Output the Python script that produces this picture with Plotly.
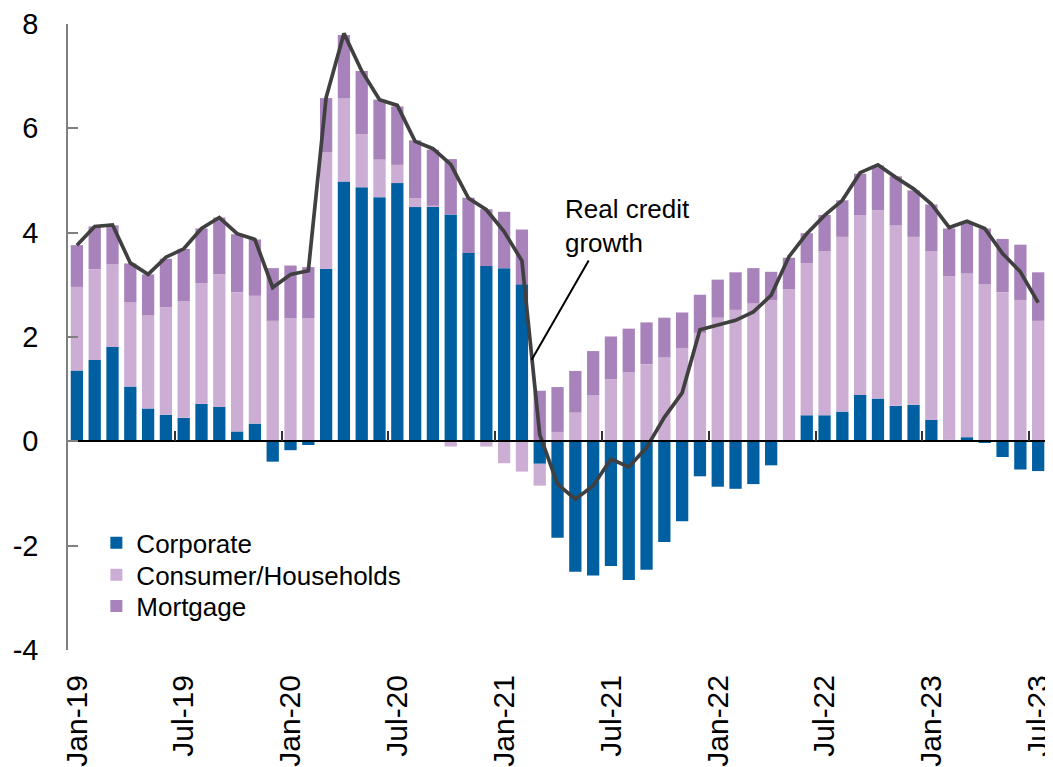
import plotly.graph_objects as go

# monthly data, Jan-19 .. Jul-23 (percent contributions)
months = [f"{m}-{y}" for y in range(19, 24)
          for m in ["Jan", "Feb", "Mar", "Apr", "May", "Jun",
                    "Jul", "Aug", "Sep", "Oct", "Nov", "Dec"]][:55]

corporate = [1.36, 1.56, 1.81, 1.05, 0.63, 0.51, 0.45, 0.72, 0.66, 0.19, 0.34, -0.39,
             -0.17, -0.07, 3.31, 4.98, 4.87, 4.68, 4.95, 4.49, 4.50, 4.35, 3.61, 3.36,
             3.32, 3.01, -0.43, -1.85, -2.50, -2.57, -2.39, -2.66, -2.46, -1.93, -1.53, -0.67,
             -0.87, -0.91, -0.82, -0.46, 0.00, 0.50, 0.50, 0.57, 0.89, 0.82, 0.68, 0.70,
             0.41, 0.03, 0.08, -0.02, -0.30, -0.54, -0.57]
consumer = [1.60, 1.74, 1.58, 1.62, 1.79, 2.06, 2.24, 2.31, 2.54, 2.67, 2.45, 2.31,
            2.36, 2.36, 2.23, 1.59, 1.02, 0.72, 0.35, 0.17, 0.02, -0.10, 0.00, -0.10,
            -0.42, -0.58, -0.42, 0.18, 0.55, 0.88, 1.19, 1.32, 1.48, 1.61, 1.79, 2.08,
            2.37, 2.52, 2.65, 2.71, 2.92, 2.91, 3.14, 3.35, 3.44, 3.61, 3.46, 3.22,
            3.23, 3.14, 3.14, 3.01, 2.86, 2.71, 2.31]
mortgage = [0.80, 0.82, 0.75, 0.74, 0.78, 0.93, 1.00, 1.05, 1.09, 1.11, 1.08, 1.01,
            1.01, 0.98, 1.04, 1.22, 1.21, 1.15, 1.12, 1.11, 1.07, 1.06, 1.06, 1.09,
            1.08, 1.05, 0.97, 0.86, 0.80, 0.85, 0.82, 0.84, 0.80, 0.76, 0.68, 0.73,
            0.73, 0.72, 0.67, 0.54, 0.60, 0.58, 0.70, 0.70, 0.80, 0.86, 0.94, 0.89,
            0.90, 0.91, 0.97, 1.07, 1.02, 1.06, 0.93]
real_credit = [3.76, 4.12, 4.15, 3.42, 3.20, 3.53, 3.69, 4.08, 4.29, 3.98, 3.87, 2.95,
               3.20, 3.27, 6.59, 7.82, 7.10, 6.55, 6.44, 5.75, 5.61, 5.31, 4.66, 4.44,
               4.02, 3.46, 0.13, -0.82, -1.11, -0.85, -0.34, -0.49, -0.12, 0.46, 0.93, 2.14,
               2.23, 2.32, 2.48, 2.80, 3.54, 3.98, 4.33, 4.62, 5.15, 5.30, 5.06, 4.84,
               4.55, 4.10, 4.22, 4.08, 3.60, 3.25, 2.66]

y_min, y_max = -4, 8
y_ticks = list(range(y_min, y_max + 1, 2))
idx = list(range(len(months)))
FONT = "Arial, Liberation Sans, sans-serif"

fig = go.Figure()

# stacked bars (negative parts stack below zero); one legend box per series
series = [("Corporate", corporate, "#005FA0", "legend"),
          ("Consumer/Households", consumer, "#CCADD3", "legend2"),
          ("Mortgage", mortgage, "#A882BA", "legend3")]
for name, vals, color, leg in series:
    fig.add_trace(go.Bar(x=idx, y=vals, name=name, marker_color=color,
                         marker_line_width=0, legend=leg))

# real credit growth line, on the overlay axis that also carries the zero line
fig.add_trace(go.Scatter(x=idx, y=real_credit, mode="lines", xaxis="x2",
                         line=dict(color="#404040", width=3.7), showlegend=False))

fig.add_annotation(x=27.3, y=4.12, xref="x", yref="y", text="Real credit<br>growth",
                   showarrow=False, xanchor="left", yanchor="middle", align="left",
                   font=dict(size=26, color="black", family=FONT))
fig.add_annotation(x=25.54, y=1.56, xref="x", yref="y", text="", showarrow=True,
                   ax=58, ay=-101, arrowhead=0, arrowwidth=2, arrowcolor="black",
                   standoff=0)

leg_style = dict(x=0.029, xanchor="left", yanchor="middle",
                 bgcolor="rgba(0,0,0,0)", font=dict(size=26))

# page body has an 8px margin, so the figure is 8px smaller than the window
fig.update_layout(
    width=1045, height=759,
    margin=dict(l=60, r=7, t=16, b=117),
    plot_bgcolor="white", paper_bgcolor="white",
    barmode="relative", bargap=0.31,
    font=dict(family=FONT, color="black"),
    xaxis=dict(range=[-0.5, 54.44], tickvals=idx[::6], ticktext=months[::6],
               tickangle=-90, ticks="", showline=False, showgrid=False,
               zeroline=False, tickfont=dict(size=30), ticklabelstandoff=18,
               ticklabeloverflow="allow", automargin=False),
    xaxis2=dict(overlaying="x", matches="x", anchor="free", side="bottom",
                position=(0 - y_min) / (y_max - y_min),
                showline=True, linecolor="black", linewidth=1.5,
                ticks="inside", ticklen=10, tickwidth=1.5, tickcolor="#333333",
                tickvals=[i - 0.5 for i in idx[6::6]], showticklabels=False,
                showgrid=False, zeroline=False, automargin=False),
    yaxis=dict(range=[y_min, y_max], tickvals=y_ticks,
               ticktext=[str(v) for v in y_ticks],
               showline=True, linecolor="#808080",
               linewidth=1.5, ticks="inside", ticklen=10, tickwidth=1.5,
               tickcolor="#808080", showgrid=False, zeroline=False,
               tickfont=dict(size=29), ticklabelstandoff=22, automargin=False),
    legend=dict(y=0.171, **leg_style),
    legend2=dict(y=0.120, **leg_style),
    legend3=dict(y=0.070, **leg_style),
)

fig.write_html("out.html")
